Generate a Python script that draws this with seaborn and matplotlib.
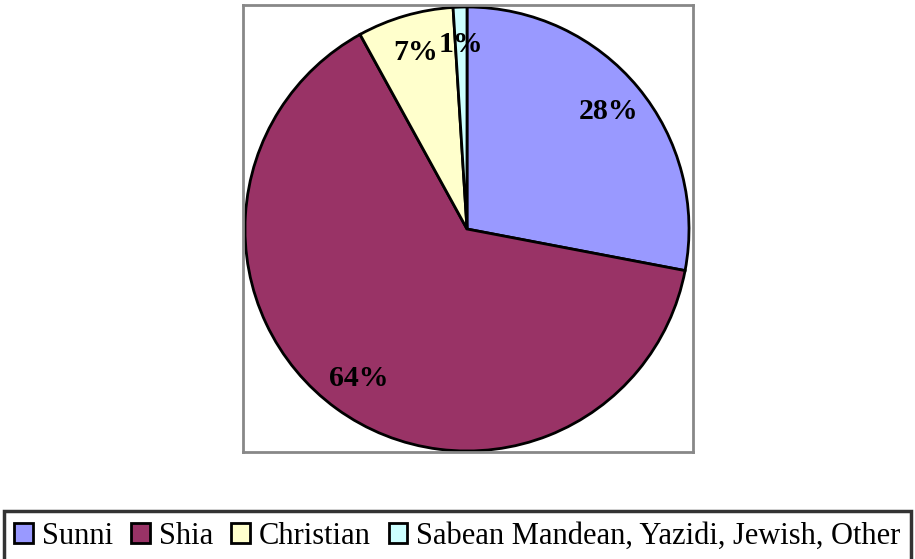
import matplotlib.pyplot as plt
import seaborn as sns

GROUPS = ["Sunni", "Shia", "Christian", "Sabean Mandean, Yazidi, Jewish, Other"]
SHARES = [28, 64, 7, 1]
COLORS = ["#9999FF", "#993366", "#FFFFCC", "#CCFFFF"]

sns.set_theme(style="white")
plt.rcParams["font.family"] = ["Liberation Serif", "DejaVu Serif"]
plt.rcParams["text.color"] = "black"

fig = plt.figure(figsize=(9.15, 5.59), dpi=100)
# plot area box, in figure fractions
ax = fig.add_axes([243 / 915, 107 / 559, 450 / 915, 447 / 559])

wedges, _, autotexts = ax.pie(
    SHARES,
    colors=COLORS,
    startangle=90,
    counterclock=False,
    radius=1.0,
    autopct=lambda p: f"{p:.0f}%",
    pctdistance=0.83,
    wedgeprops={"edgecolor": "black", "linewidth": 2},
    textprops={"fontsize": 21.5, "fontweight": "bold", "color": "black"},
)
ax.set_aspect("auto")
ax.set_xlim(-224 / 222, 226 / 222)
ax.set_ylim(-223 / 222, 224 / 222)
ax.set_frame_on(True)
for s in ax.spines.values():
    s.set_visible(True)
    s.set_color("#888888")
    s.set_linewidth(2)
ax.set_xticks([])
ax.set_yticks([])

leg = fig.legend(
    wedges,
    GROUPS,
    loc="upper center",
    bbox_to_anchor=(0.5, 1 - 511 / 559),
    ncol=4,
    fontsize=22,
    frameon=True,
    fancybox=False,
    edgecolor="black",
    handlelength=0.6,
    handleheight=0.6,
    handletextpad=0.3,
    columnspacing=0.6,
    borderpad=0.35,
    borderaxespad=0,
)
leg.get_frame().set_linewidth(2.5)
for h in leg.legend_handles:
    h.set_linewidth(2)
for t in leg.get_texts():
    t.set_color("black")

fig.savefig("out.png", dpi=100)
